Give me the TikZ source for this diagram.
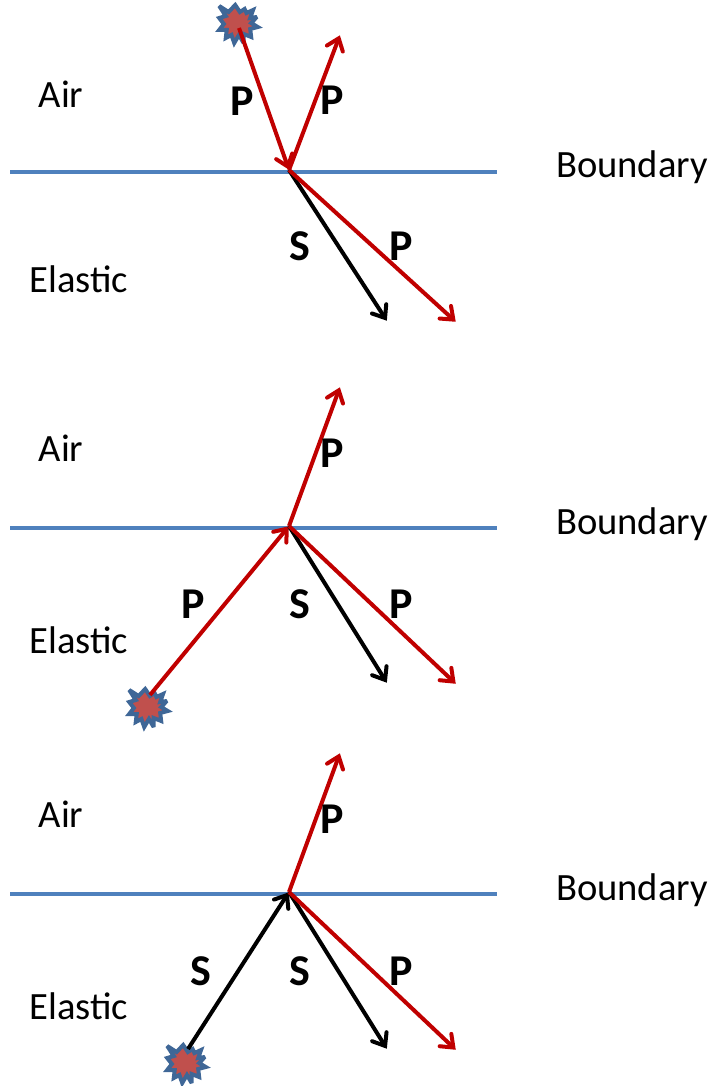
\documentclass[tikz,border=0pt]{standalone}
\usepackage{fontspec}
\setmainfont{Carlito}
\usetikzlibrary{arrows.meta}
\definecolor{bl}{HTML}{4F81BD}
\definecolor{rd}{HTML}{C00000}
\definecolor{sf}{HTML}{C0504D}
\definecolor{sd}{HTML}{3F6797}
\pgfdeclarearrow{
  name=OpenHead,
  setup code={%
    \pgfarrowssettipend{0pt}%
    \pgfarrowssetlineend{-4pt}%
    \pgfarrowssetbackend{-14pt}%
    \pgfarrowshullpoint{0pt}{0pt}%
    \pgfarrowshullpoint{-14pt}{10pt}%
    \pgfarrowshullpoint{-14pt}{-10pt}%
  },
  drawing code={%
    \pgfsetlinewidth{4pt}%
    \pgfsetmiterjoin
    \pgfsetmiterlimit{10}%
    \pgfsetroundcap
    \pgfpathmoveto{\pgfqpoint{-14.5pt}{8.5pt}}%
    \pgfpathlineto{\pgfqpoint{-3.6pt}{0pt}}%
    \pgfpathlineto{\pgfqpoint{-14.5pt}{-8.5pt}}%
    \pgfusepathqstroke
  }
}
\tikzset{
  x=1pt,y=-1pt,
  bnd/.style={draw=bl,line width=3.6pt},
  wave/.style={line width=4pt,-{OpenHead}},
  pw/.style={wave,draw=rd},
  sw/.style={wave,draw=black},
  lbl/.style={font=\fontsize{38.6}{38.6}\selectfont,inner sep=0pt,text=black},
  wl/.style={font=\fontsize{44}{44}\bfseries\selectfont,inner sep=0pt,text=black},
  burst/.pic={\draw[fill=sf,draw=sd,line width=4pt,line join=miter,miter limit=3,xscale=0.94]
    (-3,-17)--(2,-10)--(7,-13)--(9,-9)--(16,-12)--(13,-4)--(20,-5)--(14,1)--(21,5)--(13,7)--(14,15)--(6,12)--(6,21)--(1,13)--(-4,21)--(-7,13)--(-13,16)--(-12,8)--(-20,8)--(-15,2)--(-20,-4)--(-13,-6)--(-20,-16)--(-10,-10)--cycle;}
}
\begin{document}
\begin{tikzpicture}
\useasboundingbox (0,0) rectangle (711,1086);
% panel 1
\coordinate (bl1) at (10,172); \coordinate (br1) at (497,172);
\coordinate (h1) at (289,170); \coordinate (r1) at (340,35);
\coordinate (s1) at (387,321); \coordinate (p1) at (456,322);
\coordinate (star1) at (238,22); \coordinate (src1) at (239,28);
\draw[bnd] (bl1)--(br1);
\pic at (star1) {burst};
\draw[pw] (src1)--(h1);
\draw[pw] (h1)--(r1);
\draw[sw] (h1)--(s1);
\draw[pw] (h1)--(p1);
\node[lbl] (air1) at (61,94) {Air};
\node[lbl] (el1) at (79,279) {Elastic};
\node[lbl] (bd1) at (632,167) {Boundary};
\node[wl] (a1) at (242,101) {P};
\node[wl] (b1) at (332,100) {P};
\node[wl] (c1) at (300,246) {S};
\node[wl] (d1) at (401,246) {P};
% panel 2
\coordinate (bl2) at (10,528); \coordinate (br2) at (497,528);
\coordinate (h2) at (289,526); \coordinate (r2) at (340,387);
\coordinate (s2) at (387,683); \coordinate (p2) at (456,684);
\coordinate (star2) at (148,706); \coordinate (src2) at (150,695);
\draw[bnd] (bl2)--(br2);
\pic at (star2) {burst};
\draw[pw] (src2)--(h2);
\draw[pw] (h2)--(r2);
\draw[sw] (h2)--(s2);
\draw[pw] (h2)--(p2);
\node[lbl] (air2) at (61,448) {Air};
\node[lbl] (el2) at (79,640) {Elastic};
\node[lbl] (bd2) at (632,524) {Boundary};
\node[wl] (a2) at (193,604) {P};
\node[wl] (b2) at (332,453) {P};
\node[wl] (c2) at (300,604) {S};
\node[wl] (d2) at (401,604) {P};
% panel 3
\coordinate (bl3) at (10,894); \coordinate (br3) at (497,894);
\coordinate (h3) at (289,892); \coordinate (r3) at (340,753);
\coordinate (s3) at (387,1049); \coordinate (p3) at (456,1050);
\coordinate (star3) at (186,1062); \coordinate (src3) at (188,1049);
\draw[bnd] (bl3)--(br3);
\pic at (star3) {burst};
\draw[sw] (src3)--(h3);
\draw[pw] (h3)--(r3);
\draw[sw] (h3)--(s3);
\draw[pw] (h3)--(p3);
\node[lbl] (air3) at (61,814) {Air};
\node[lbl] (el3) at (79,1006) {Elastic};
\node[lbl] (bd3) at (632,890) {Boundary};
\node[wl] (a3) at (201,971) {S};
\node[wl] (b3) at (332,819) {P};
\node[wl] (c3) at (300,971) {S};
\node[wl] (d3) at (401,971) {P};
\end{tikzpicture}
\end{document}
